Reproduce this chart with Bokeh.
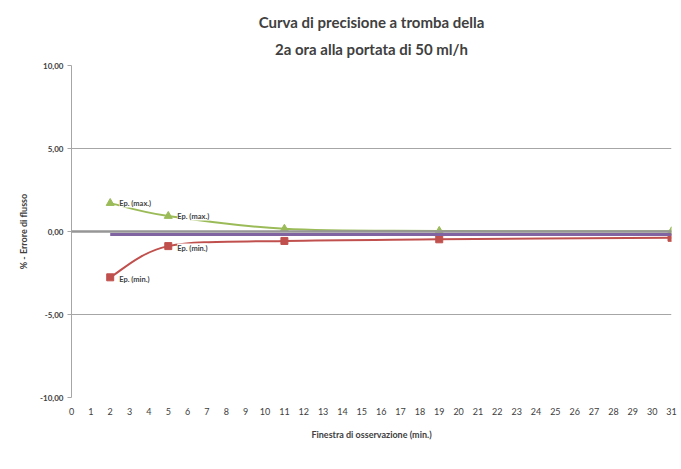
from bokeh.plotting import figure
from bokeh.models import (Range1d, FixedTicker, Span, Label, Legend, LegendItem, Title)
from bokeh.embed import file_html
from bokeh.resources import INLINE

# ---- data ----
obs_minutes = [2, 5, 11, 19, 31]
ep_min = [-2.76, -0.88, -0.57, -0.47, -0.38]
ep_max = [1.71, 0.93, 0.16, 0.03, 0.01]
err_total = [-0.18, -0.18, -0.18, -0.18, -0.18]
y_ticks = [-10, -5, 0, 5, 10]
y_tick_labels = ["-10,00", "-5,00", "0,00", "5,00", "10,00"]
x_ticks = list(range(0, 32))

FONT = "Lato"
RED = "#C0504D"
GREEN = "#9BBB59"
PURPLE = "#8064A2"
GRID = "#a6a6a6"
TXT = "#404040"

p = figure(frame_width=600, frame_height=332, x_range=Range1d(0, 31), y_range=Range1d(-10, 10),
           output_backend="svg", toolbar_location=None,
           min_border_left=71, min_border_right=10, min_border_top=65, min_border_bottom=72)
p.outline_line_color = None
p.background_fill_color = "white"
p.border_fill_color = "white"

# titles
t2 = Title(text="2a ora alla portata di 50 ml/h", align="center", text_font=FONT,
           text_font_size="15px", text_font_style="bold", text_color=TXT, standoff=15)
t1 = Title(text="Curva di precisione a tromba della", align="center", text_font=FONT,
           text_font_size="15px", text_font_style="bold", text_color=TXT, standoff=0)
p.add_layout(t2, "above")
p.add_layout(t1, "above")

# axes
p.yaxis.ticker = FixedTicker(ticks=y_ticks)
p.yaxis.major_label_overrides = {t: l for t, l in zip(y_ticks, y_tick_labels)}
p.yaxis.major_label_text_font = FONT
p.yaxis.major_label_text_font_size = "8px"
p.yaxis.major_label_text_font_style = "bold"
p.yaxis.major_label_text_color = TXT
p.yaxis.axis_line_color = GRID
p.yaxis.major_tick_line_color = GRID
p.yaxis.major_tick_out = 4
p.yaxis.major_tick_in = 0
p.yaxis.minor_tick_line_color = None
p.yaxis.major_label_standoff = 4
p.yaxis.axis_label = "% - Errore di flusso"
p.yaxis.axis_label_text_font = FONT
p.yaxis.axis_label_text_font_size = "9px"
p.yaxis.axis_label_text_font_style = "bold"
p.yaxis.axis_label_text_color = TXT
p.yaxis.axis_label_standoff = 8

p.xaxis.ticker = FixedTicker(ticks=x_ticks)
p.xaxis.major_label_text_font = FONT
p.xaxis.major_label_text_font_size = "9px"
p.xaxis.major_label_text_color = TXT
p.xaxis.axis_line_color = None
p.xaxis.major_tick_line_color = None
p.xaxis.minor_tick_line_color = None
p.xaxis.major_label_standoff = 4
p.xaxis.axis_label = "Finestra di osservazione (min.)"
p.xaxis.axis_label_text_font = FONT
p.xaxis.axis_label_text_font_size = "9px"
p.xaxis.axis_label_text_font_style = "bold"
p.xaxis.axis_label_text_color = TXT
p.xaxis.axis_label_standoff = 11

p.xgrid.grid_line_color = None
p.ygrid.ticker = FixedTicker(ticks=y_ticks)
p.ygrid.grid_line_color = GRID
p.ygrid.grid_line_width = 1

p.add_layout(Span(location=0, dimension="width", line_color="#969696", line_width=2.5))


def smooth_segments(xs, ys):
    n = len(xs)
    seg = dict(x0=[], y0=[], x1=[], y1=[], cx0=[], cy0=[], cx1=[], cy1=[])
    for i in range(n - 1):
        a = i - 1 if i > 0 else i
        d = i + 2 if i + 2 < n else i + 1
        seg["x0"].append(xs[i]); seg["y0"].append(ys[i])
        seg["x1"].append(xs[i + 1]); seg["y1"].append(ys[i + 1])
        seg["cx0"].append(xs[i] + (xs[i + 1] - xs[a]) / 6)
        seg["cy0"].append(ys[i] + (ys[i + 1] - ys[a]) / 6)
        seg["cx1"].append(xs[i + 1] - (xs[d] - xs[i]) / 6)
        seg["cy1"].append(ys[i + 1] - (ys[d] - ys[i]) / 6)
    return seg


s_red = smooth_segments(obs_minutes, ep_min)
r_red_line = p.bezier(source=s_red, x0="x0", y0="y0", x1="x1", y1="y1",
                      cx0="cx0", cy0="cy0", cx1="cx1", cy1="cy1", line_color=RED, line_width=2)
r_red_pts = p.scatter(obs_minutes, ep_min, marker="square", size=7, color=RED)

s_green = smooth_segments(obs_minutes, ep_max)
r_green_line = p.bezier(source=s_green, x0="x0", y0="y0", x1="x1", y1="y1",
                        cx0="cx0", cy0="cy0", cx1="cx1", cy1="cy1", line_color=GREEN, line_width=2)
r_green_pts = p.scatter(obs_minutes, ep_max, marker="triangle", size=8, color=GREEN)

r_purple = p.line(obs_minutes, err_total, line_color=PURPLE, line_width=3)

# point labels
for i in (0, 1):
    p.add_layout(Label(x=obs_minutes[i], y=ep_max[i], text="Ep. (max.)", x_offset=9,
                       text_baseline="middle", text_font=FONT, text_font_size="7.5px",
                       text_font_style="bold", text_color=TXT,
                       background_fill_color="white"))
    p.add_layout(Label(x=obs_minutes[i], y=ep_min[i], text="Ep. (min.)", x_offset=9, y_offset=-2,
                       text_baseline="middle", text_font=FONT, text_font_size="7.5px",
                       text_font_style="bold", text_color=TXT,
                       background_fill_color="white"))

legend = Legend(items=[
    LegendItem(label="Ep. (min.)", renderers=[r_red_line, r_red_pts]),
    LegendItem(label="Ep. (max.)", renderers=[r_green_line, r_green_pts]),
    LegendItem(label="Errore percentuale complessivo", renderers=[r_purple]),
], orientation="horizontal", location=(167, -70),
    label_text_font=FONT, label_text_font_size="6px", label_text_font_style="bold",
    label_text_color=TXT, border_line_color="#95a9c9", border_line_width=1,
    background_fill_color="white", background_fill_alpha=1.0,
    glyph_width=16, glyph_height=8, spacing=30, padding=3, margin=0,
    label_standoff=2, label_height=8)
p.add_layout(legend, "center")

open("out.html", "w").write(file_html(p, INLINE))
